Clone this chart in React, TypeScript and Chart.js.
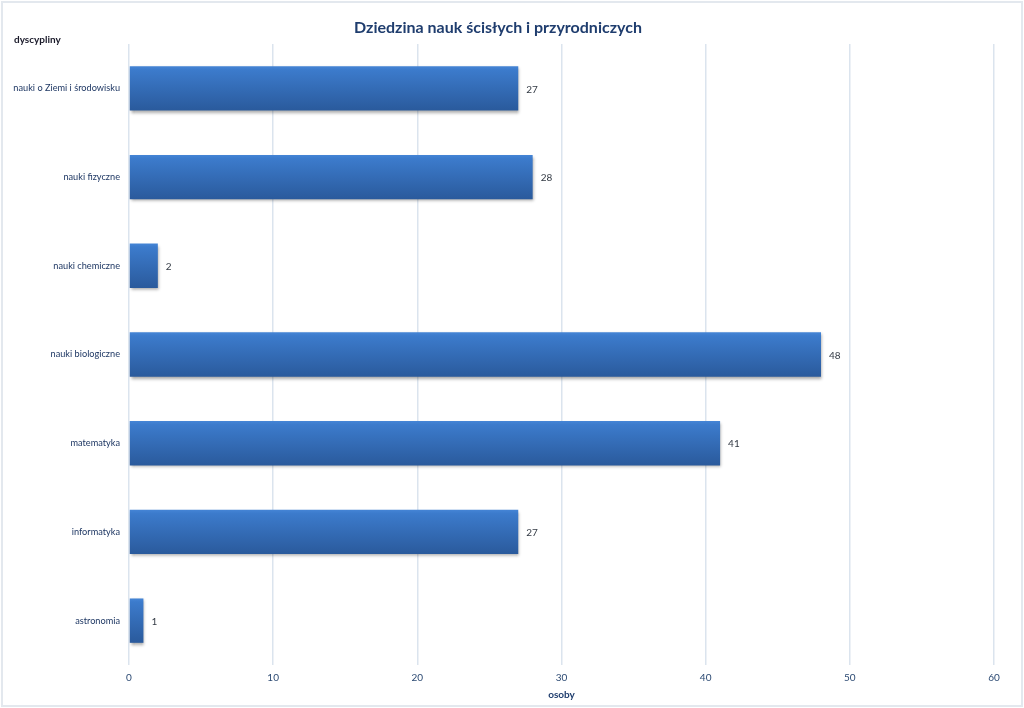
import React, { useEffect, useRef } from "react";
import { Chart, registerables } from "chart.js";

Chart.register(...registerables);

const categories = [
  "nauki o Ziemi i środowisku",
  "nauki fizyczne",
  "nauki chemiczne",
  "nauki biologiczne",
  "matematyka",
  "informatyka",
  "astronomia",
];
const values = [27, 28, 2, 48, 41, 27, 1];
const titleText = "Dziedzina nauk ścisłych i przyrodniczych";
const yTitle = "dyscypliny";
const xTitle = "osoby";

const FONT = "Lato, 'Open Sans', sans-serif";

export default function App() {
  const ref = useRef<HTMLCanvasElement>(null);
  useEffect(() => {
    document.body.style.margin = "0";
    const canvas = ref.current!;
    const decor = {
      id: "decor",
      beforeDraw(chart: any) {
        const c = chart.ctx;
        c.save();
        c.fillStyle = "#ffffff";
        c.fillRect(0, 0, chart.width, chart.height);
        c.strokeStyle = "#e3e8ee";
        c.lineWidth = 2;
        c.strokeRect(2, 2, chart.width - 4, chart.height - 4);
        c.restore();
      },
      beforeDatasetsDraw(chart: any) {
        const c = chart.ctx;
        c.save();
        c.shadowColor = "rgba(0,0,0,0.35)";
        c.shadowBlur = 3;
        c.shadowOffsetX = 1;
        c.shadowOffsetY = 2;
      },
      afterDatasetsDraw(chart: any) {
        const c = chart.ctx;
        c.restore();
        c.save();
        c.font = `10px ${FONT}`;
        c.fillStyle = "#333a44";
        c.textBaseline = "middle";
        c.textAlign = "left";
        const meta = chart.getDatasetMeta(0);
        meta.data.forEach((el: any, i: number) => {
          c.fillText(String(values[i]), el.x + 8, el.y + 1);
        });
        const area = chart.chartArea;
        c.font = `bold 16px ${FONT}`;
        c.fillStyle = "#1f3d6e";
        c.textAlign = "center";
        c.fillText(titleText, 498, 28);
        c.font = `bold 10px ${FONT}`;
        c.fillStyle = "#1a1a2a";
        c.textAlign = "left";
        c.fillText(yTitle, 14, 40);
        c.textAlign = "center";
        c.fillStyle = "#1f3d6e";
        c.fillText(xTitle, (area.left + area.right) / 2, 695);
        c.restore();
      },
    };
    const chart = new Chart(canvas, {
      type: "bar",
      data: {
        labels: categories,
        datasets: [
          {
            data: values,
            barPercentage: 0.5,
            categoryPercentage: 1,
            borderWidth: 0,
            backgroundColor: (ctx: any) => {
              const ch = ctx.chart;
              const area = ch.chartArea;
              if (!area || ctx.dataIndex === undefined || !ch.scales.y) return "#3670b8";
              const yc = ch.scales.y.getPixelForValue(ctx.dataIndex);
              const half = (area.height / categories.length) * 0.25;
              const g = ch.ctx.createLinearGradient(0, yc - half, 0, yc + half);
              g.addColorStop(0, "#4585d6");
              g.addColorStop(0.08, "#3c7bcc");
              g.addColorStop(1, "#2a5a9c");
              return g;
            },
          },
        ],
      },
      options: {
        indexAxis: "y",
        animation: false,
        responsive: false,
        maintainAspectRatio: false,
        layout: { padding: { top: 44, right: 30, left: 0, bottom: 0 } },
        plugins: { legend: { display: false }, title: { display: false }, tooltip: { enabled: false } },
        scales: {
          x: {
            min: 0,
            max: 60,
            ticks: { stepSize: 10, color: "#2c4a73", font: { size: 10, family: FONT }, padding: 7 },
            grid: { color: "#dbe4ee", drawTicks: false, lineWidth: 1.5 },
            border: { display: false },
            afterFit(scale: any) {
              scale.height = 43;
            },
          },
          y: {
            ticks: { color: "#1f3864", font: { size: 9.2, family: FONT }, padding: 9 },
            grid: { display: false, drawTicks: false },
            border: { display: false },
            afterFit(scale: any) {
              scale.width = 129;
            },
          },
        },
      },
      plugins: [decor],
    });
    return () => chart.destroy();
  }, []);
  return (
    <div style={{ position: "absolute", left: 0, top: 0, width: 1024, height: 708 }}>
      <canvas ref={ref} width={1024} height={708} style={{ width: 1024, height: 708, display: "block" }} />
    </div>
  );
}
